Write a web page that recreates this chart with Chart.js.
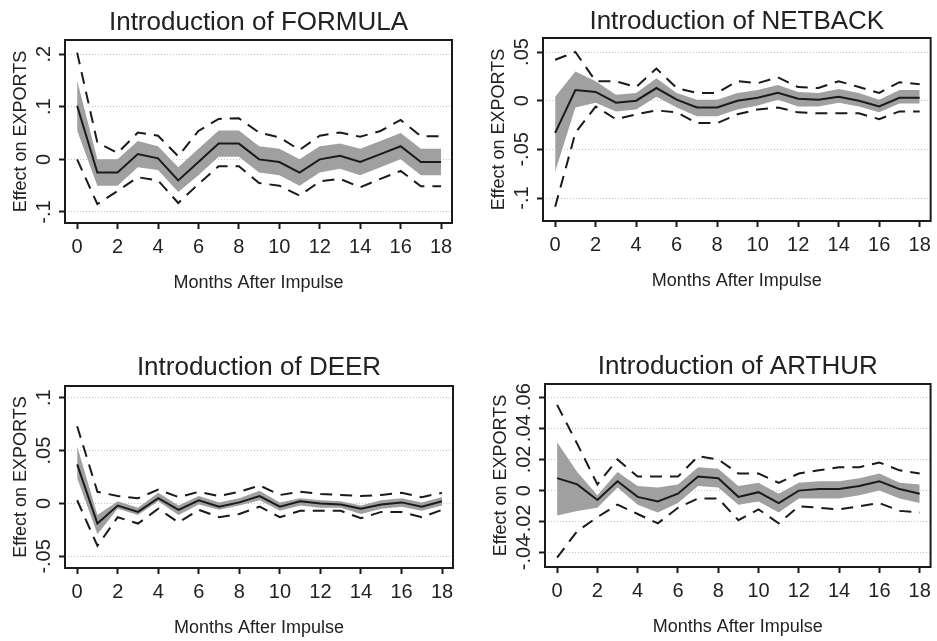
<!DOCTYPE html>
<html>
<head>
<meta charset="utf-8">
<script src="https://cdn.jsdelivr.net/npm/chart.js@4.4.1/dist/chart.umd.min.js"></script>
<style>
  html, body { margin: 0; padding: 0; background: #fff; }
  body { width: 937px; height: 641px; position: relative; overflow: hidden; }
  canvas { position: absolute; }
</style>
</head>
<body>
<canvas id="formula" width="468" height="300" style="left:0;top:0"></canvas>
<canvas id="netback" width="467" height="300" style="left:470px;top:0"></canvas>
<canvas id="deer" width="468" height="321" style="left:0;top:320px"></canvas>
<canvas id="arthur" width="467" height="321" style="left:470px;top:320px"></canvas>
<script>
// months after impulse and the labelled ticks
const months = [0, 1, 2, 3, 4, 5, 6, 7, 8, 9, 10, 11, 12, 13, 14, 15, 16, 17, 18];
const monthTicks = [0, 2, 4, 6, 8, 10, 12, 14, 16, 18];

// FORMULA
const formulaIrf    = [0.102, -0.025, -0.025, 0.010, 0.002, -0.040, -0.005, 0.030, 0.030, 0.000, -0.005, -0.025, 0.000, 0.007, -0.005, 0.010, 0.025, -0.005, -0.005];
const formulaBandHi = [0.150, 0.000, 0.000, 0.035, 0.025, -0.015, 0.020, 0.055, 0.055, 0.025, 0.020, 0.000, 0.025, 0.030, 0.020, 0.035, 0.050, 0.020, 0.020];
const formulaBandLo = [0.055, -0.050, -0.050, -0.015, -0.020, -0.062, -0.030, 0.005, 0.005, -0.025, -0.030, -0.050, -0.025, -0.018, -0.030, -0.015, 0.000, -0.030, -0.030];
const formulaCiHi   = [0.203, 0.032, 0.012, 0.051, 0.045, 0.006, 0.054, 0.077, 0.078, 0.051, 0.042, 0.018, 0.045, 0.051, 0.043, 0.054, 0.075, 0.044, 0.044];
const formulaCiLo   = [0.000, -0.085, -0.060, -0.034, -0.040, -0.083, -0.047, -0.013, -0.013, -0.045, -0.050, -0.069, -0.042, -0.037, -0.053, -0.037, -0.022, -0.051, -0.051];
const formulaYTicks = [-0.1, 0, 0.1, 0.2];

// NETBACK
const netbackIrf    = [-0.033, 0.011, 0.009, -0.002, 0.000, 0.013, 0.001, -0.007, -0.007, 0.000, 0.003, 0.008, 0.002, 0.001, 0.004, 0.000, -0.006, 0.003, 0.003];
const netbackBandHi = [0.004, 0.030, 0.020, 0.006, 0.008, 0.023, 0.008, 0.001, 0.001, 0.008, 0.011, 0.016, 0.009, 0.008, 0.012, 0.008, 0.001, 0.011, 0.011];
const netbackBandLo = [-0.073, -0.007, -0.002, -0.011, -0.009, 0.004, -0.007, -0.016, -0.016, -0.009, -0.005, 0.001, -0.006, -0.006, -0.002, -0.006, -0.012, -0.003, -0.003];
const netbackCiHi   = [0.042, 0.050, 0.020, 0.020, 0.014, 0.033, 0.013, 0.008, 0.008, 0.020, 0.018, 0.024, 0.014, 0.013, 0.020, 0.014, 0.008, 0.019, 0.017];
const netbackCiLo   = [-0.109, -0.033, -0.006, -0.019, -0.014, -0.010, -0.012, -0.023, -0.023, -0.014, -0.009, -0.007, -0.012, -0.013, -0.013, -0.013, -0.019, -0.011, -0.011];
const netbackYTicks = [-0.1, -0.05, 0, 0.05];

// DEER
const deerIrf    = [0.037, -0.019, -0.002, -0.008, 0.005, -0.006, 0.003, -0.003, 0.001, 0.007, -0.003, 0.002, 0.000, -0.001, -0.005, -0.001, 0.001, -0.003, 0.002];
const deerBandHi = [0.054, -0.011, 0.002, -0.004, 0.010, -0.002, 0.007, 0.001, 0.005, 0.012, 0.001, 0.005, 0.003, 0.002, -0.002, 0.003, 0.005, 0.001, 0.006];
const deerBandLo = [0.024, -0.029, -0.005, -0.011, 0.002, -0.011, -0.001, -0.006, -0.002, 0.003, -0.007, -0.002, -0.004, -0.004, -0.010, -0.005, -0.003, -0.007, -0.002];
const deerCiHi   = [0.073, 0.011, 0.007, 0.005, 0.013, 0.006, 0.011, 0.007, 0.011, 0.017, 0.008, 0.011, 0.009, 0.008, 0.007, 0.008, 0.010, 0.006, 0.010];
const deerCiLo   = [0.003, -0.040, -0.013, -0.019, -0.005, -0.018, -0.006, -0.013, -0.010, -0.003, -0.013, -0.007, -0.007, -0.007, -0.014, -0.008, -0.008, -0.013, -0.006];
const deerYTicks = [-0.05, 0, 0.05, 0.1];

// ARTHUR
const arthurIrf    = [0.008, 0.004, -0.006, 0.006, -0.004, -0.007, -0.002, 0.009, 0.008, -0.004, -0.001, -0.008, 0.000, 0.001, 0.001, 0.003, 0.006, 0.001, -0.002];
const arthurBandHi = [0.031, 0.012, -0.003, 0.012, 0.003, 0.002, 0.004, 0.015, 0.014, 0.003, 0.005, -0.002, 0.005, 0.006, 0.006, 0.008, 0.011, 0.005, 0.004];
const arthurBandLo = [-0.016, -0.013, -0.011, 0.002, -0.009, -0.014, -0.008, 0.003, 0.002, -0.009, -0.007, -0.014, -0.005, -0.005, -0.005, -0.003, 0.000, -0.005, -0.008];
const arthurCiHi   = [0.055, 0.030, 0.004, 0.020, 0.009, 0.009, 0.009, 0.022, 0.020, 0.011, 0.011, 0.005, 0.011, 0.013, 0.015, 0.015, 0.018, 0.013, 0.011];
const arthurCiLo   = [-0.043, -0.026, -0.017, -0.009, -0.015, -0.021, -0.011, -0.005, -0.005, -0.019, -0.012, -0.021, -0.010, -0.011, -0.012, -0.010, -0.008, -0.013, -0.014];
const arthurYTicks = [-0.04, -0.02, 0, 0.02, 0.04, 0.06];

const FONT = '"Liberation Sans", Arial, sans-serif';
const INK = '#1a1a1a';
const BAND = '#a0a0a0';

// stata style: ".05", "-.1", "0"
function stataLabel(v) {
    return String(+v.toFixed(4)).replace(/^(-?)0\./, '$1.');
}

// box round the plot region and the upright y tick labels
const frameAndLabels = {
    id: 'frameAndLabels',
    afterDatasetsDraw(chart) {
        const { ctx, chartArea: a } = chart;
        const y = chart.scales.y;
        ctx.save();
        ctx.strokeStyle = INK;
        ctx.lineWidth = 2;
        ctx.strokeRect(a.left, a.top, a.right - a.left, a.bottom - a.top);
        ctx.fillStyle = '#222';
        ctx.font = `20px ${FONT}`;
        ctx.textAlign = 'center';
        ctx.textBaseline = 'middle';
        y.ticks.forEach(t => {
            ctx.save();
            ctx.translate(a.left - 21, y.getPixelForValue(t.value));
            ctx.rotate(-Math.PI / 2);
            ctx.fillText(stataLabel(t.value), 0, 0);
            ctx.restore();
        });
        ctx.restore();
    }
};

function makePanel(id, title, s, g) {
    const canvas = document.getElementById(id);
    const W = canvas.width;
    const H = canvas.height;
    const titleLH = 26 * 1.2;
    const xTitleLH = 18 * 1.2;
    const yTitleLH = 18 * 1.2;
    const pts = arr => months.map((m, i) => ({ x: m, y: arr[i] }));
    const base = { pointRadius: 0, tension: 0, fill: false };
    const dashed = { borderColor: INK, borderWidth: 2, borderDash: [12, 8] };

    return new Chart(canvas, {
        type: 'line',
        data: {
            datasets: [
                { ...base, data: pts(s.bandHi), borderWidth: 0, fill: '+1', backgroundColor: BAND, order: 5 },
                { ...base, data: pts(s.bandLo), borderWidth: 0, order: 4 },
                { ...base, data: pts(s.irf), borderColor: INK, borderWidth: 2, order: 1 },
                { ...base, ...dashed, data: pts(s.ciHi), order: 2 },
                { ...base, ...dashed, data: pts(s.ciLo), order: 2 }
            ]
        },
        options: {
            responsive: false,
            animation: false,
            events: [],
            layout: { padding: { left: g.left - 65, right: W - g.right, top: 0, bottom: 0 } },
            plugins: {
                legend: { display: false },
                tooltip: { enabled: false },
                title: {
                    display: true,
                    fullSize: false,
                    text: title,
                    color: '#222',
                    font: { family: FONT, size: 26, weight: 'normal', lineHeight: 1.2 },
                    padding: { top: g.titleY - titleLH / 2, bottom: g.top - (g.titleY - titleLH / 2) - titleLH }
                }
            },
            scales: {
                x: {
                    type: 'linear',
                    min: -0.6,
                    max: 18.54,
                    afterBuildTicks: sc => { sc.ticks = monthTicks.map(v => ({ value: v })); },
                    afterFit: sc => { sc.height = H - g.bottom; },
                    grid: { drawOnChartArea: false, drawTicks: true, tickLength: 6, tickWidth: 2, tickColor: INK },
                    border: { display: false },
                    ticks: { color: '#222', font: { family: FONT, size: 20 }, padding: 6, maxRotation: 0, autoSkip: false },
                    title: {
                        display: true,
                        text: 'Months After Impulse',
                        color: '#222',
                        font: { family: FONT, size: 18, lineHeight: 1.2 },
                        padding: { top: 0, bottom: H - g.bottom - 60 - xTitleLH / 2 }
                    }
                },
                y: {
                    min: s.yMin,
                    max: s.yMax,
                    afterBuildTicks: sc => { sc.ticks = s.yTicks.map(v => ({ value: v })); },
                    afterFit: sc => { sc.width = 65; },
                    grid: { color: '#c2c2c2', lineWidth: 1, tickLength: 6, tickWidth: 2, tickColor: INK, tickBorderDash: [] },
                    border: { display: false, dash: [1, 2] },
                    ticks: { display: false },
                    title: {
                        display: true,
                        text: 'Effect on EXPORTS',
                        color: '#222',
                        font: { family: FONT, size: 18, lineHeight: 1.2 },
                        padding: { top: 21 - yTitleLH / 2, bottom: 0 }
                    }
                }
            }
        },
        plugins: [frameAndLabels]
    });
}

makePanel('formula', 'Introduction of FORMULA',
    { irf: formulaIrf, bandHi: formulaBandHi, bandLo: formulaBandLo, ciHi: formulaCiHi, ciLo: formulaCiLo, yTicks: formulaYTicks, yMin: -0.121, yMax: 0.227 },
    { left: 65, right: 452, top: 40, bottom: 223, titleY: 23 });
makePanel('netback', 'Introduction of NETBACK',
    { irf: netbackIrf, bandHi: netbackBandHi, bandLo: netbackBandLo, ciHi: netbackCiHi, ciLo: netbackCiLo, yTicks: netbackYTicks, yMin: -0.1236, yMax: 0.0644 },
    { left: 73, right: 462, top: 38, bottom: 221, titleY: 22 });
makePanel('deer', 'Introduction of DEER',
    { irf: deerIrf, bandHi: deerBandHi, bandLo: deerBandLo, ciHi: deerCiHi, ciLo: deerCiLo, yTicks: deerYTicks, yMin: -0.061, yMax: 0.111 },
    { left: 65, right: 453, top: 66, bottom: 248, titleY: 48 });
makePanel('arthur', 'Introduction of ARTHUR',
    { irf: arthurIrf, bandHi: arthurBandHi, bandLo: arthurBandLo, ciHi: arthurCiHi, ciLo: arthurCiLo, yTicks: arthurYTicks, yMin: -0.049, yMax: 0.0684 },
    { left: 75, right: 463, top: 64, bottom: 247, titleY: 47 });
</script>
</body>
</html>
